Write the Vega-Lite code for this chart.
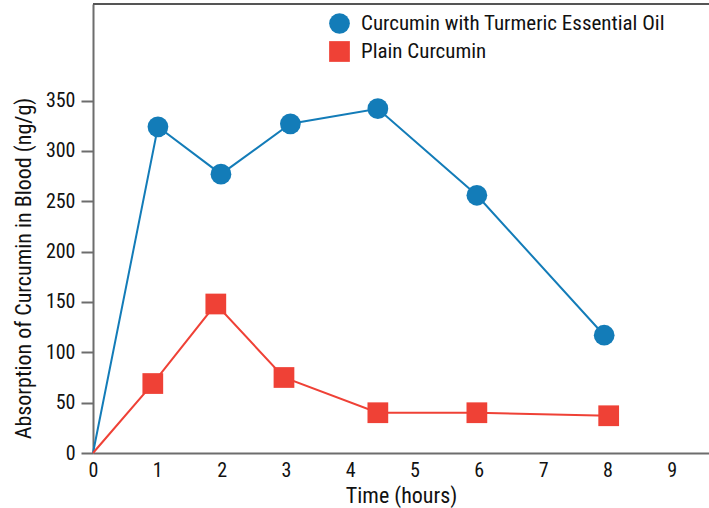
{
  "$schema": "https://vega.github.io/schema/vega-lite/v6.json",
  "width": 616,
  "height": 449,
  "autosize": {"type": "none"},
  "padding": {"left": 93, "top": 4, "right": 0, "bottom": 55},
  "background": "white",
  "config": {
    "view": {"stroke": null},
    "font": "Roboto Condensed",
    "axis": {
      "domainColor": "#6d6d6d",
      "domainWidth": 2,
      "tickColor": "#6d6d6d",
      "tickWidth": 2,
      "labelColor": "#111",
      "titleColor": "#111",
      "labelFont": "Roboto Condensed",
      "titleFont": "Roboto Condensed",
      "labelFontSize": 20,
      "titleFontWeight": "normal",
      "grid": false
    },
    "legend": {
      "labelFont": "Roboto Condensed",
      "labelFontSize": 21,
      "labelColor": "#111",
      "labelLimit": 0,
      "orient": "none",
      "legendX": 236,
      "legendY": 9,
      "padding": 0,
      "symbolSize": 430,
      "symbolOpacity": 1,
      "symbolStrokeWidth": 0,
      "rowPadding": 6,
      "labelOffset": 11
    }
  },
  "data": {
    "values": [
      {"time": 0, "value": 0, "series": "Curcumin with Turmeric Essential Oil"},
      {"time": 1.01, "value": 324, "series": "Curcumin with Turmeric Essential Oil"},
      {"time": 1.99, "value": 277, "series": "Curcumin with Turmeric Essential Oil"},
      {"time": 3.07, "value": 327, "series": "Curcumin with Turmeric Essential Oil"},
      {"time": 4.43, "value": 342, "series": "Curcumin with Turmeric Essential Oil"},
      {"time": 5.97, "value": 256, "series": "Curcumin with Turmeric Essential Oil"},
      {"time": 7.95, "value": 117, "series": "Curcumin with Turmeric Essential Oil"},
      {"time": 0, "value": 0, "series": "Plain Curcumin"},
      {"time": 0.93, "value": 69, "series": "Plain Curcumin"},
      {"time": 1.91, "value": 148, "series": "Plain Curcumin"},
      {"time": 2.97, "value": 75, "series": "Plain Curcumin"},
      {"time": 4.43, "value": 40, "series": "Plain Curcumin"},
      {"time": 5.97, "value": 40, "series": "Plain Curcumin"},
      {"time": 8.02, "value": 37, "series": "Plain Curcumin"}
    ]
  },
  "layer": [
    {
      "mark": {"type": "rule", "color": "#555", "strokeWidth": 2},
      "encoding": {"y": {"datum": 446, "type": "quantitative"}}
    },
    {
      "transform": [{"filter": "datum.series === 'Curcumin with Turmeric Essential Oil'"}],
      "mark": {"type": "line", "strokeWidth": 2, "color": "#137cb8"},
      "encoding": {
        "x": {
          "field": "time", "type": "quantitative",
          "scale": {"domain": [0, 9.58], "nice": false, "zero": true},
          "axis": {"values": [0,1,2,3,4,5,6,7,8,9], "format": "d", "ticks": false, "labelPadding": 7, "title": "Time (hours)", "titleFontSize": 22, "titlePadding": 5, "labelFlush": false}
        },
        "y": {
          "field": "value", "type": "quantitative",
          "scale": {"domain": [0, 446], "nice": false},
          "axis": {"values": [0,50,100,150,200,250,300,350], "format": "d", "tickSize": 12, "labelPadding": 6, "title": "Absorption of Curcumin in Blood (ng/g)", "titleFontSize": 22, "titlePadding": 10, "titleY": 264}
        }
      }
    },
    {
      "transform": [{"filter": "datum.series === 'Plain Curcumin'"}],
      "mark": {"type": "line", "strokeWidth": 2, "color": "#ef4136"},
      "encoding": {
        "x": {"field": "time", "type": "quantitative"},
        "y": {"field": "value", "type": "quantitative"}
      }
    },
    {
      "transform": [{"filter": "datum.time > 0"}],
      "mark": {"type": "point", "filled": true, "opacity": 1, "size": 430},
      "encoding": {
        "x": {"field": "time", "type": "quantitative"},
        "y": {"field": "value", "type": "quantitative"},
        "color": {
          "field": "series", "type": "nominal",
          "scale": {"domain": ["Curcumin with Turmeric Essential Oil", "Plain Curcumin"], "range": ["#137cb8", "#ef4136"]},
          "title": null
        },
        "shape": {
          "field": "series", "type": "nominal",
          "scale": {"domain": ["Curcumin with Turmeric Essential Oil", "Plain Curcumin"], "range": ["circle", "square"]},
          "title": null
        }
      }
    }
  ]
}
